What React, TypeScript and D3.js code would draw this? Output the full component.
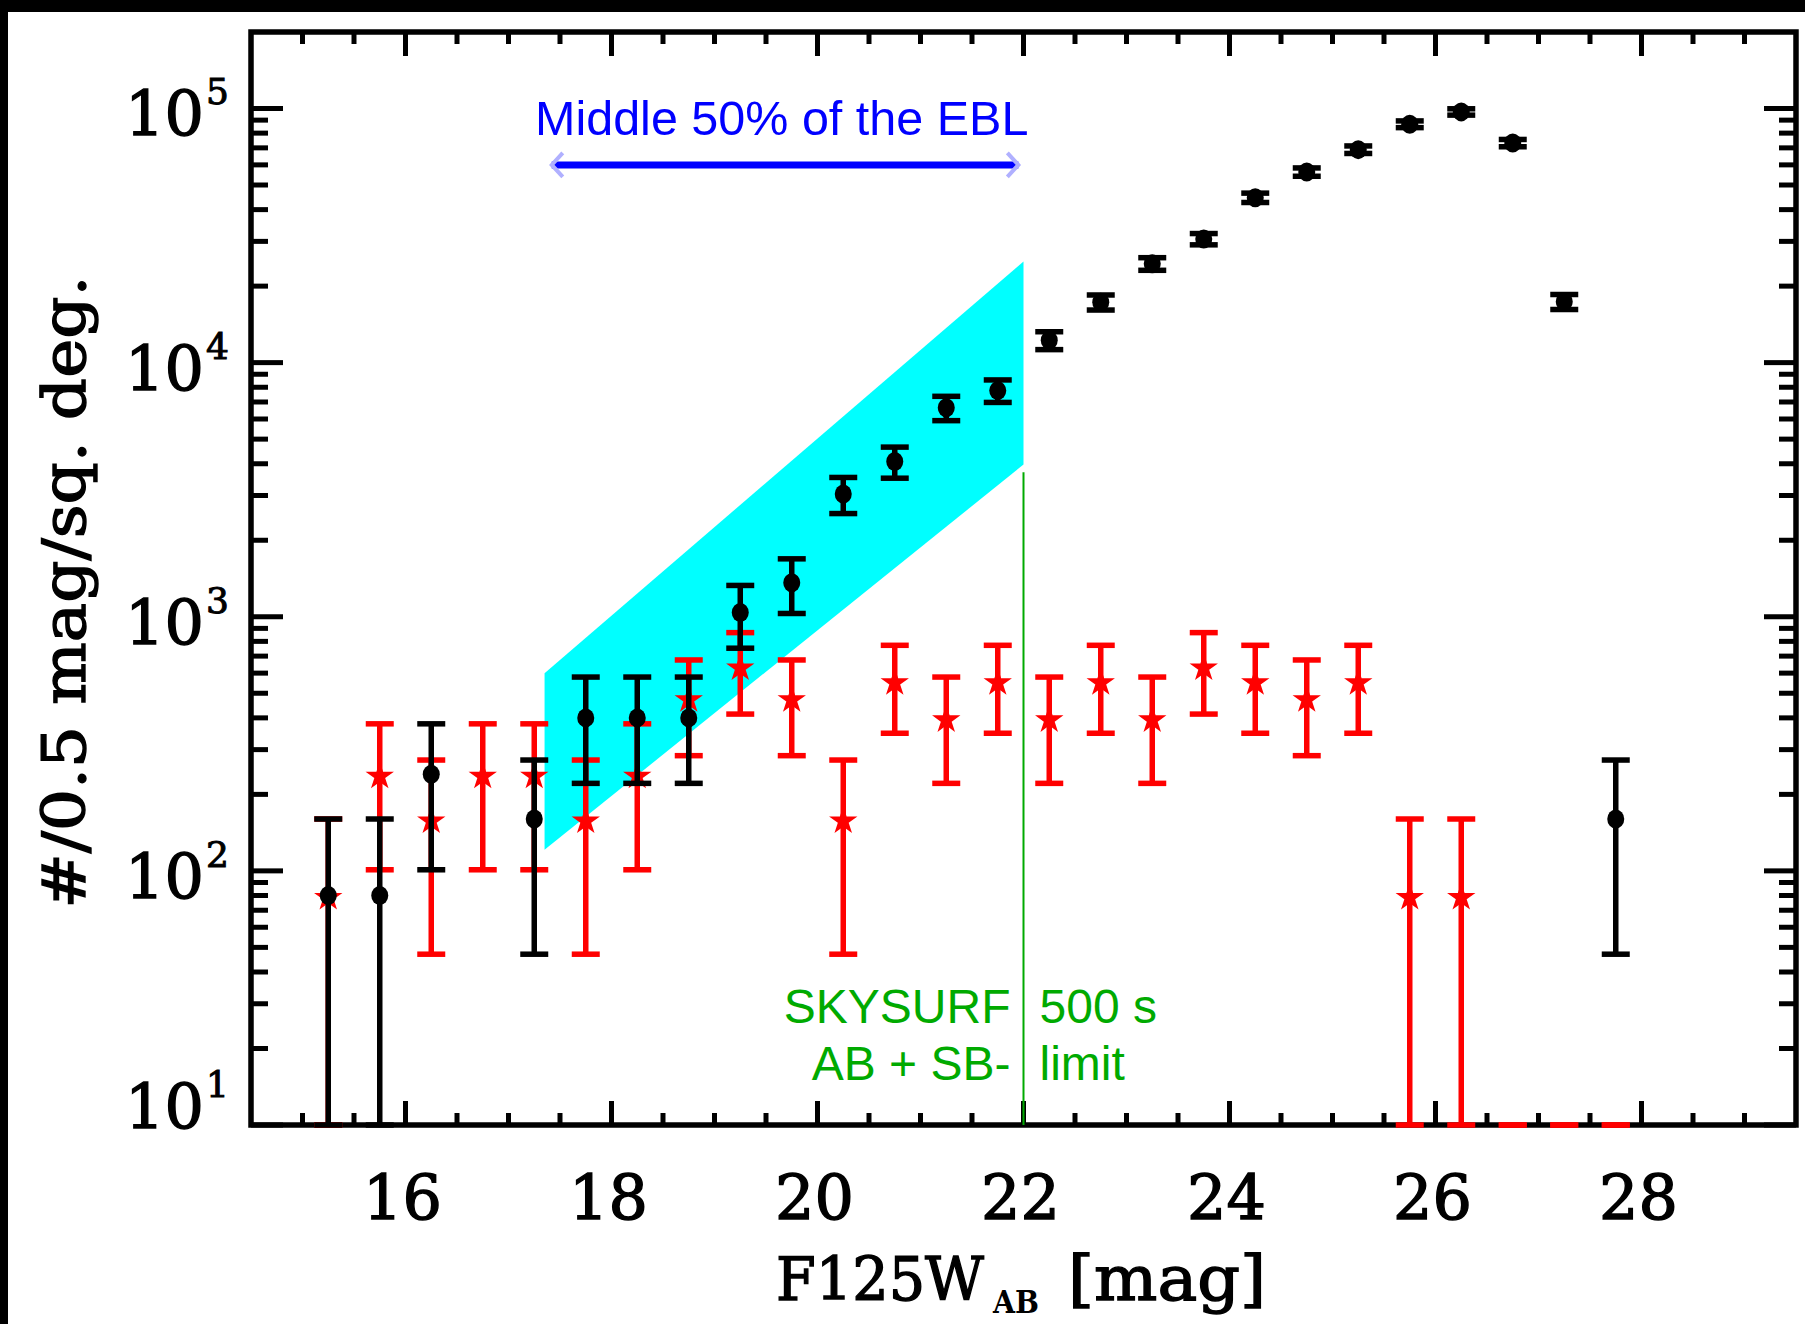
import React from 'react';
import * as d3 from 'd3';

// ---- Number counts per 0.5 mag per square degree (F125W) ----
// All objects (black filled circles)
const galMag = [15.25, 15.75, 16.25, 17.25, 17.75, 18.25, 18.75, 19.25, 19.75, 20.25, 20.75, 21.25, 21.75,
  22.25, 22.75, 23.25, 23.75, 24.25, 24.75, 25.25, 25.75, 26.25, 26.75, 27.25, 27.75];
const galVal = [80, 80, 240, 160, 400, 400, 400, 1040, 1360, 3040, 4080, 6640, 7760,
  12240, 17280, 24480, 30640, 44560, 56240, 68880, 86720, 96960, 73120, 17360, 160];
const galLo = [0, 0, 101, 47, 221, 221, 221, 752, 1030, 2547, 3509, 5911, 6972,
  11250, 16104, 23081, 29074, 42672, 54119, 66533, 84086, 94175, 70701, 16182, 47];
const galHi = [160, 160, 379, 273, 579, 579, 579, 1328, 1690, 3533, 4651, 7369, 8548,
  13230, 18456, 25879, 32206, 46448, 58361, 71227, 89354, 99745, 75539, 18538, 273];

// Stars (red five-pointed stars)
const starMag = [15.25, 15.75, 16.25, 16.75, 17.25, 17.75, 18.25, 18.75, 19.25, 19.75, 20.25, 20.75, 21.25,
  21.75, 22.25, 22.75, 23.25, 23.75, 24.25, 24.75, 25.25, 25.75, 26.25, 26.75, 27.25, 27.75];
const starVal = [80, 240, 160, 240, 240, 160, 240, 480, 640, 480, 160, 560, 400,
  560, 400, 560, 400, 640, 560, 480, 560, 80, 80, 0, 0, 0];
const starLo = [0, 101, 47, 101, 101, 47, 101, 284, 414, 284, 47, 348, 221,
  348, 221, 348, 221, 414, 348, 284, 348, 0, 0, 0, 0, 0];
const starHi = [160, 379, 273, 379, 379, 273, 379, 676, 866, 676, 273, 772, 579,
  772, 579, 772, 579, 866, 772, 676, 772, 160, 160, 0, 0, 0];

// EBL band (corners, clockwise)
const bandMag = [17.35, 22.0, 22.0, 17.35];
const bandVal = [600, 25000, 3970, 121];

// "Middle 50%" arrow
const arrowMag = [17.42, 21.95];
const arrowVal = 60000;

// SKYSURF limit line
const limitMag = 22.0;
const limitTop = 3700;

// Axes
const xDomain = [14.5, 29.5];
const yDomain = [10, 2e5];
const xMajorTicks = [16, 18, 20, 22, 24, 26, 28];
const yDecades = [1, 2, 3, 4, 5];

const W = 1805;
const H = 1324;
const P = { left: 251, right: 1796, top: 32, bottom: 1125 };

const SERIF = '"DejaVu Serif", serif';
const SANS = '"Liberation Sans", Arial, sans-serif';
const RED = '#ff0000';
const GREEN = '#00aa00';
const BLUE = '#0000ff';

export default function App() {
  const x = d3.scaleLinear().domain(xDomain).range([P.left, P.right]);
  const y = d3.scaleLog().domain(yDomain).range([P.bottom, P.top]);
  const yc = (v: number) => (v <= yDomain[0] ? P.bottom : y(v));

  const xMinor = d3.range(15, 29.5, 0.5).filter((m) => !xMajorTicks.includes(m));
  const yMinor: number[] = [];
  yDecades.forEach((k) => {
    for (let m = 2; m <= 9; m++) {
      const v = m * Math.pow(10, k);
      if (v < yDomain[1]) yMinor.push(v);
    }
  });

  const starPath = d3.symbol(d3.symbolStar, 250)() as string;

  const errBars = (mags: number[], lo: number[], hi: number[], color: string, key: string) =>
    mags.map((m, i) => {
      const cx = x(m);
      const yl = yc(lo[i]);
      const yh = yc(hi[i]);
      return (
        <g key={key + i}>
          <line x1={cx} x2={cx} y1={yl} y2={yh} stroke={color} strokeWidth={5.5} />
          <line x1={cx - 14} x2={cx + 14} y1={yl} y2={yl} stroke={color} strokeWidth={5.5} />
          <line x1={cx - 14} x2={cx + 14} y1={yh} y2={yh} stroke={color} strokeWidth={5.5} />
        </g>
      );
    });

  const bandPts = bandMag.map((m, i) => `${x(m)},${y(bandVal[i])}`).join(' ');
  const ay = y(arrowVal);
  const ax0 = x(arrowMag[0]);
  const ax1 = x(arrowMag[1]);

  const heavy = { stroke: '#000', strokeWidth: 1.4 };

  return (
    <svg width={W} height={H} style={{ position: 'absolute', left: 0, top: 0, display: 'block' }}
      xmlns="http://www.w3.org/2000/svg">
      <rect x={0} y={0} width={W} height={H} fill="#ffffff" />
      <rect x={0} y={0} width={W} height={12} fill="#000" />
      <rect x={0} y={0} width={8} height={H} fill="#000" />

      {/* frame */}
      <rect x={P.left} y={P.top} width={P.right - P.left} height={P.bottom - P.top}
        fill="none" stroke="#000" strokeWidth={5.5} />

      {/* x ticks, bottom and top */}
      {xMajorTicks.map((m) => (
        <g key={'xM' + m}>
          <line x1={x(m)} x2={x(m)} y1={P.bottom} y2={P.bottom - 24} stroke="#000" strokeWidth={5} />
          <line x1={x(m)} x2={x(m)} y1={P.top} y2={P.top + 24} stroke="#000" strokeWidth={5} />
        </g>
      ))}
      {xMinor.map((m) => (
        <g key={'xm' + m}>
          <line x1={x(m)} x2={x(m)} y1={P.bottom} y2={P.bottom - 12} stroke="#000" strokeWidth={5} />
          <line x1={x(m)} x2={x(m)} y1={P.top} y2={P.top + 12} stroke="#000" strokeWidth={5} />
        </g>
      ))}

      {/* y ticks, left and right */}
      {yDecades.map((k) => {
        const ty = y(Math.pow(10, k));
        return (
          <g key={'yM' + k}>
            <line x1={P.left} x2={P.left + 32} y1={ty} y2={ty} stroke="#000" strokeWidth={5} />
            <line x1={P.right} x2={P.right - 32} y1={ty} y2={ty} stroke="#000" strokeWidth={5} />
          </g>
        );
      })}
      {yMinor.map((v) => (
        <g key={'ym' + v}>
          <line x1={P.left} x2={P.left + 17} y1={y(v)} y2={y(v)} stroke="#000" strokeWidth={5} />
          <line x1={P.right} x2={P.right - 17} y1={y(v)} y2={y(v)} stroke="#000" strokeWidth={5} />
        </g>
      ))}

      {/* tick labels */}
      {xMajorTicks.map((m) => (
        <text key={'xl' + m} x={x(m) - 3} y={1219} textAnchor="middle" fontFamily={SERIF}
          fontSize={62} fill="#000" {...heavy}>{m}</text>
      ))}
      {yDecades.map((k) => {
        const ty = y(Math.pow(10, k));
        const base = k === 1 ? ty + 3 : ty + 27;
        return (
          <text key={'yl' + k} fontFamily={SERIF} fill="#000" {...heavy}>
            <tspan x={204} y={base} textAnchor="end" fontSize={62}>10</tspan>
            <tspan x={206} y={base - 31} textAnchor="start" fontSize={36} strokeWidth={1}>{k}</tspan>
          </text>
        );
      })}

      {/* axis titles */}
      <text transform="translate(85,592) rotate(-90)" textAnchor="middle" fontFamily={SERIF}
        fontSize={60} textLength={633} lengthAdjust="spacingAndGlyphs" fill="#000" {...heavy}>
        #/0.5 mag/sq. deg.
      </text>
      <text fontFamily={SERIF} fill="#000">
        <tspan x={776} y={1300} fontSize={60} textLength={208} lengthAdjust="spacingAndGlyphs"
          {...heavy}>F125W</tspan>
        <tspan x={993} y={1313} fontSize={32} fontWeight="bold" textLength={46}
          lengthAdjust="spacingAndGlyphs">AB</tspan>
        <tspan x={1068} y={1300} fontSize={62} textLength={198} lengthAdjust="spacingAndGlyphs"
          {...heavy}>[mag]</tspan>
      </text>

      {/* EBL band */}
      <polygon points={bandPts} fill="#00ffff" />

      {/* SKYSURF limit */}
      <line x1={x(limitMag)} x2={x(limitMag)} y1={y(limitTop)} y2={P.bottom} stroke={GREEN} strokeWidth={2} />
      <g fontFamily={SANS} fontSize={48} fill={GREEN}>
        <text x={x(limitMag) - 13} y={1023} textAnchor="end">SKYSURF</text>
        <text x={x(limitMag) + 16} y={1023} textAnchor="start">500 s</text>
        <text x={x(limitMag) - 13} y={1080} textAnchor="end">AB + SB-</text>
        <text x={x(limitMag) + 16} y={1080} textAnchor="start">limit</text>
      </g>

      {/* Middle 50% of the EBL */}
      <text x={535} y={135} fontFamily={SANS} fontSize={48.5} fill={BLUE}>Middle 50% of the EBL</text>
      <line x1={ax0} x2={ax1} y1={ay} y2={ay} stroke={BLUE} strokeWidth={7} />
      <path d={`M${ax0 + 11},${ay - 12} L${ax0},${ay} L${ax0 + 11},${ay + 12}`} fill="none"
        stroke="#b0b0ff" strokeWidth={4} />
      <path d={`M${ax1 - 11},${ay - 12} L${ax1},${ay} L${ax1 - 11},${ay + 12}`} fill="none"
        stroke="#b0b0ff" strokeWidth={4} />

      {/* stars */}
      {errBars(starMag, starLo, starHi, RED, 's')}
      {starMag.map((m, i) =>
        starVal[i] > 0 ? (
          <path key={'st' + i} d={starPath} transform={`translate(${x(m)},${y(starVal[i]) + 2})`} fill={RED} />
        ) : null
      )}

      {/* all objects */}
      {errBars(galMag, galLo, galHi, '#000', 'g')}
      {galMag.map((m, i) => (
        <ellipse key={'gp' + i} cx={x(m)} cy={y(galVal[i])} rx={8.5} ry={9.5} fill="#000" />
      ))}
    </svg>
  );
}
